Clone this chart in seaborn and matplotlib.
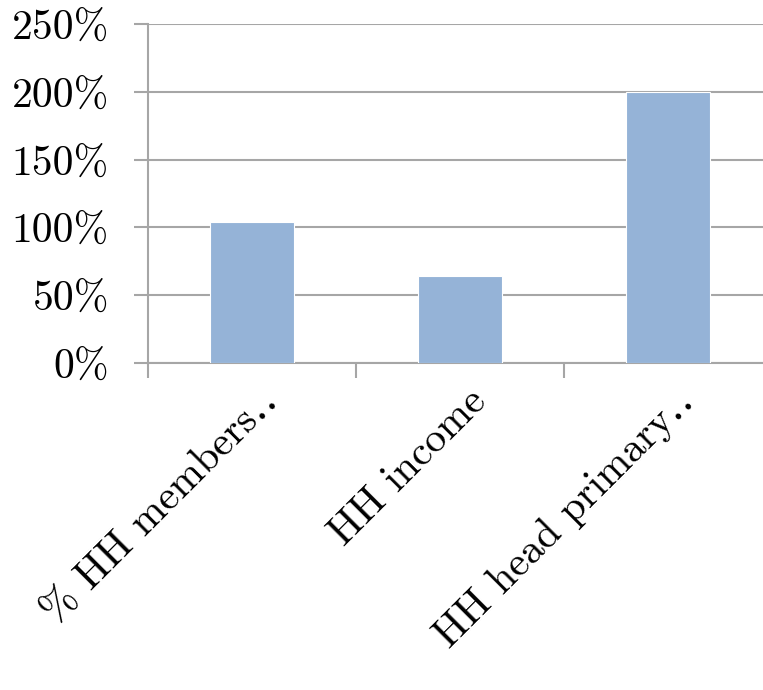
import matplotlib
matplotlib.use("Agg")
import matplotlib.pyplot as plt
import matplotlib.transforms as mtransforms
from matplotlib.ticker import FuncFormatter
import seaborn as sns
import pandas as pd

categories = ["% HH members\u2025", "HH income", "HH head primary\u2025"]
values = [104, 64, 200]

sns.set_style("white")
plt.rcParams["font.family"] = ["cmr10", "DejaVu Serif"]
plt.rcParams["text.color"] = "black"
plt.rcParams["xtick.color"] = "black"
plt.rcParams["ytick.color"] = "black"
plt.rcParams["xtick.bottom"] = True
plt.rcParams["ytick.left"] = True

df = pd.DataFrame({"category": categories, "value": values})

fig = plt.figure(figsize=(7.63, 6.9), dpi=100)
ax = fig.add_axes([148 / 763, 327 / 690, 624 / 763, 339 / 690])

sns.barplot(data=df, x="category", y="value", color="#95B3D7", saturation=1,
            width=0.4, edgecolor="white", linewidth=0.8, ax=ax, zorder=3)

ax.set_ylim(0, 250)
ax.set_xlim(-0.5, 2.5)
ax.set_yticks(range(0, 251, 50))
ax.yaxis.set_major_formatter(FuncFormatter(lambda v, p: f"{int(v)}%"))
ax.set_xlabel("")
ax.set_ylabel("")

grid_col = "#A6A6A6"
ax.yaxis.grid(True, color=grid_col, linewidth=1.5)
ax.set_axisbelow(True)
for s in ["top", "right"]:
    ax.spines[s].set_visible(False)
for s in ["left", "bottom"]:
    ax.spines[s].set_color(grid_col)
    ax.spines[s].set_linewidth(1.5)

# category boundary ticks on x axis
ax.set_xticks([0, 1, 2])
ax.set_xticks([-0.5, 0.5, 1.5, 2.5], minor=True)
ax.tick_params(axis="x", which="minor", bottom=True, length=11, width=1.5,
               color=grid_col, direction="out")
ax.tick_params(axis="x", which="major", bottom=True, length=0, pad=23)
ax.tick_params(axis="y", which="major", left=True, length=10, width=1.5,
               color=grid_col, direction="out", labelsize=30, pad=18,
               labelcolor="black")

ax.set_xticklabels(categories, fontsize=30, color="black")
offset = mtransforms.ScaledTranslation(20 / 100, 0, fig.dpi_scale_trans)
for lbl in ax.get_xticklabels():
    lbl.set_rotation(45)
    lbl.set_rotation_mode("anchor")
    lbl.set_ha("right")
    lbl.set_va("center")
    lbl.set_transform(lbl.get_transform() + offset)

fig.savefig("out.png", dpi=100)
